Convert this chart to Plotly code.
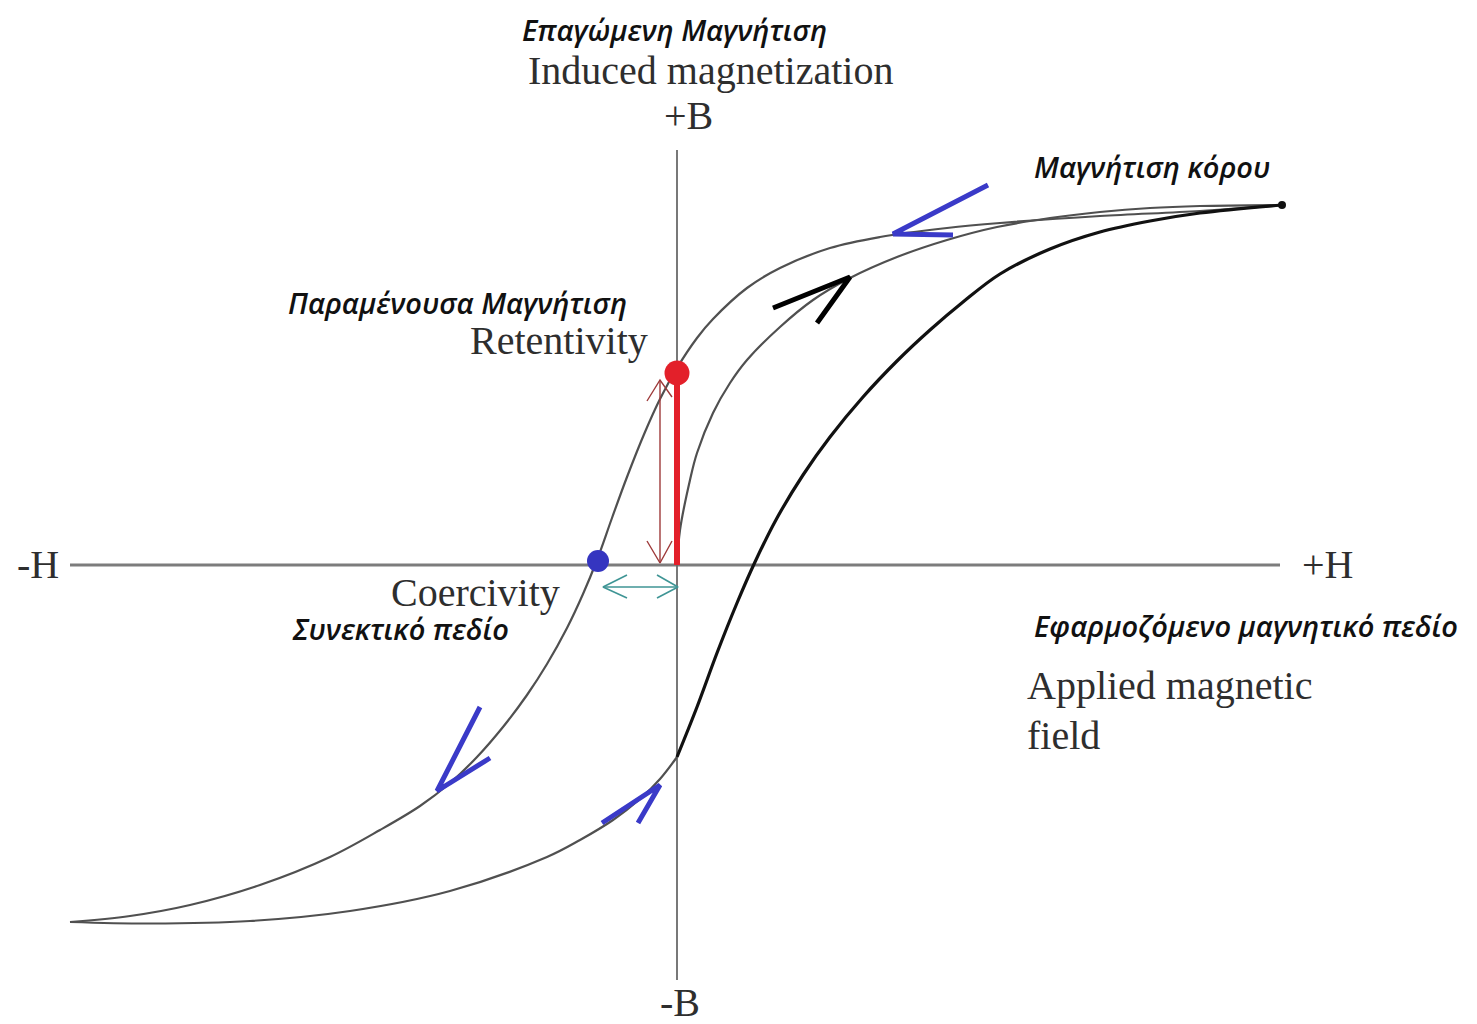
import plotly.graph_objects as go

# ---- data (H = applied field, B = induced magnetization; arbitrary units) ----
desc_H = [6.05, 5.23, 4.23, 3.23, 2.70, 2.03, 1.53, 1.03, 0.70, 0.36, 0.20, 0.00, -0.17, -0.32,
          -0.50, -0.65, -0.80, -0.94, -1.10, -1.30, -1.50, -1.74, -2.00, -2.27, -2.57, -2.97,
          -3.47, -4.17, -4.87, -5.47, -6.07]
desc_B = [3.60, 3.54, 3.49, 3.42, 3.37, 3.28, 3.17, 2.97, 2.77, 2.46, 2.27, 1.97, 1.66, 1.33,
          0.88, 0.47, 0.05, -0.29, -0.63, -0.99, -1.30, -1.62, -1.92, -2.18, -2.41, -2.65,
          -2.92, -3.20, -3.40, -3.51, -3.57]

asc_low_H = [-6.07, -5.27, -4.27, -3.27, -2.27, -1.30, -0.97, -0.64, -0.37, -0.17, 0.00]
asc_low_B = [-3.57, -3.585, -3.56, -3.46, -3.26, -2.92, -2.75, -2.55, -2.34, -2.14, -1.92]
asc_up_H = [0.00, 0.20, 0.40, 0.60, 0.78, 1.00, 1.26, 1.53, 1.86, 2.20, 2.53, 2.86, 3.23, 3.73,
            4.23, 4.73, 5.23, 6.05]
asc_up_B = [-1.92, -1.42, -0.88, -0.38, 0.03, 0.47, 0.90, 1.28, 1.68, 2.04, 2.35, 2.63, 2.91,
            3.16, 3.33, 3.44, 3.52, 3.60]

init_H = [0.00, 0.03, 0.13, 0.20, 0.36, 0.53, 0.70, 1.03, 1.36, 1.73, 2.20, 2.70, 3.20, 3.73, 4.23,
          4.73, 5.23, 6.05]
init_B = [0.00, 0.35, 0.85, 1.12, 1.52, 1.82, 2.05, 2.38, 2.65, 2.87, 3.08, 3.25, 3.38, 3.47, 3.53,
          3.57, 3.59, 3.60]

saturation = (6.05, 3.60)
retentivity = (0.00, 1.92)
coercivity = (-0.79, 0.04)

h_axis_H = [-6.07, 6.03]
b_axis_B = [-4.15, 4.15]

# hand-drawn direction arrows (arm, tip, arm)
arrow_top_H = [3.11, 2.16, 2.76]
arrow_top_B = [3.80, 3.31, 3.30]
arrow_left_H = [-1.97, -2.40, -1.87]
arrow_left_B = [-1.42, -2.26, -1.93]
arrow_low_H = [-0.75, -0.17, -0.39]
arrow_low_B = [-2.58, -2.20, -2.58]
arrow_init_H = [0.96, 1.73, 1.40]
arrow_init_B = [2.57, 2.88, 2.42]

# thin double arrows
ret_arrow_H = -0.17
ret_arrow_B = [0.02, 1.85]
coer_arrow_B = -0.22
coer_arrow_H = [-0.74, 0.01]

texts_serif = ["Induced magnetization", "+B", "Retentivity", "-H", "+H", "Coercivity",
               "Applied magnetic", "field", "-B"]
serif_x = [0.33, 0.11, -1.18, -6.39, 6.50, -2.02, 3.48, 3.48, 0.03]
serif_y = [4.95, 4.50, 2.25, 0.01, 0.01, -0.27, -1.20, -1.70, -4.37]
serif_anchor = ["center", "center", "center", "center", "center", "center", "left", "left", "center"]

texts_greek = ["Επαγώμενη Μαγνήτιση", "Μαγνήτιση κόρου", "Παραμένουσα Μαγνήτιση",
               "Συνεκτικό πεδίο", "Εφαρμοζόμενο μαγνητικό πεδίο"]
greek_x = [-0.03, 4.745, -2.195, -2.77, 5.69]
greek_y = [5.36, 3.99, 2.63, -0.63, -0.60]

fig = go.Figure()

def line(x, y, color, width, shape="linear"):
    fig.add_trace(go.Scatter(x=x, y=y, mode="lines", hoverinfo="skip", showlegend=False,
                             line=dict(color=color, width=width, shape=shape, smoothing=1.0)))

# axes
line(h_axis_H, [0, 0], "#7c7c7c", 3)
line([0, 0], b_axis_B, "#6a6a6a", 1.8)

# curves
line(desc_H, desc_B, "#505050", 2.2, "spline")
line(init_H, init_B, "#505050", 2.2, "spline")
line(asc_low_H, asc_low_B, "#505050", 2.2, "spline")
line(asc_up_H, asc_up_B, "#111111", 3.2, "spline")

# retentivity thin red double arrow
rc = "#9e3a3a"
line([ret_arrow_H, ret_arrow_H], ret_arrow_B, rc, 1.4)
line([ret_arrow_H - 0.13, ret_arrow_H, ret_arrow_H + 0.12],
     [ret_arrow_B[1] - 0.21, ret_arrow_B[1], ret_arrow_B[1] - 0.17], rc, 1.4)
line([ret_arrow_H - 0.13, ret_arrow_H, ret_arrow_H + 0.12],
     [ret_arrow_B[0] + 0.22, ret_arrow_B[0], ret_arrow_B[0] + 0.22], rc, 1.4)

# retentivity thick red bar
line([retentivity[0], retentivity[0]], [0, retentivity[1]], "#e3202a", 6)

# coercivity teal double arrow
tc = "#3f9595"
line(coer_arrow_H, [coer_arrow_B, coer_arrow_B], tc, 1.6)
line([coer_arrow_H[0] + 0.24, coer_arrow_H[0], coer_arrow_H[0] + 0.24],
     [coer_arrow_B + 0.12, coer_arrow_B, coer_arrow_B - 0.11], tc, 1.6)
line([coer_arrow_H[1] - 0.21, coer_arrow_H[1], coer_arrow_H[1] - 0.21],
     [coer_arrow_B + 0.12, coer_arrow_B, coer_arrow_B - 0.11], tc, 1.6)

# direction arrows
bc = "#3a3ac8"
line(arrow_top_H, arrow_top_B, bc, 5)
line(arrow_left_H, arrow_left_B, bc, 5)
line(arrow_low_H, arrow_low_B, bc, 5)
line(arrow_init_H, arrow_init_B, "#000000", 5)

# points
fig.add_trace(go.Scatter(x=[retentivity[0]], y=[retentivity[1]], mode="markers", hoverinfo="skip",
                         showlegend=False, marker=dict(color="#e3202a", size=25)))
fig.add_trace(go.Scatter(x=[coercivity[0]], y=[coercivity[1]], mode="markers", hoverinfo="skip",
                         showlegend=False, marker=dict(color="#3535c0", size=22)))
fig.add_trace(go.Scatter(x=[saturation[0]], y=[saturation[1]], mode="markers", hoverinfo="skip",
                         showlegend=False, marker=dict(color="#111111", size=8)))

for t, x, y, a in zip(texts_serif, serif_x, serif_y, serif_anchor):
    fig.add_annotation(x=x, y=y, text=t, showarrow=False, xanchor=a, yanchor="middle",
                       font=dict(family="Liberation Serif", size=40, color="#2e2e2e"))

for t, x, y in zip(texts_greek, greek_x, greek_y):
    fig.add_annotation(x=x, y=y, text=t, showarrow=False, xanchor="center", yanchor="middle",
                       font=dict(family="Open Sans", size=29, color="#111111", style="italic",
                                 weight=600))

# the page body has an 8px margin: size and ranges compensate so the drawing lands in place
fig.update_layout(
    width=1469, height=1016, margin=dict(l=0, r=0, t=0, b=0),
    paper_bgcolor="white", plot_bgcolor="white",
    xaxis=dict(range=[-6.69, 8.00], visible=False, fixedrange=True),
    yaxis=dict(range=[-4.59, 5.57], visible=False, fixedrange=True),
)

fig.write_html("out.html")
